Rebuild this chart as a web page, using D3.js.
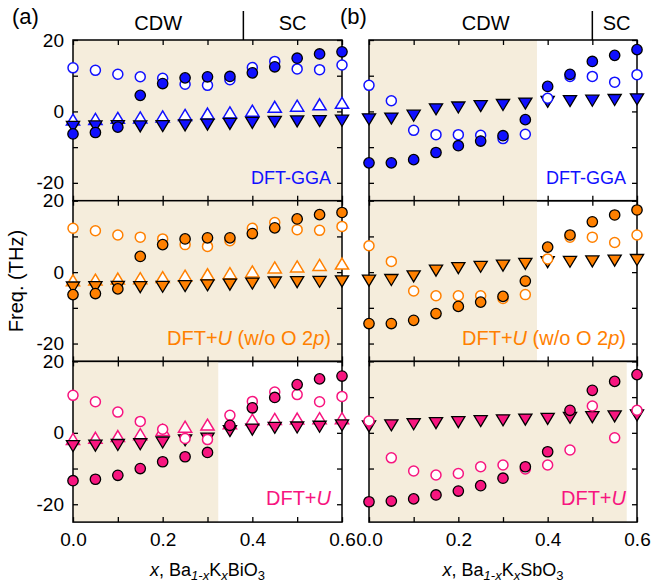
<!DOCTYPE html>
<html>
<head>
<meta charset="utf-8">
<script src="https://cdn.jsdelivr.net/npm/d3@7"></script>
<style>
  body { margin: 0; background: #fff; }
  text { font-family: "Liberation Sans", Arial, sans-serif; }
</style>
</head>
<body>
<div id="chartContainer"></div>
<script>
// doping levels x (same for every panel)
const xs = [0, 0.05, 0.1, 0.15, 0.2, 0.25, 0.3, 0.35, 0.4, 0.45, 0.5, 0.55, 0.6];

// ---- (a) Ba1-xKxBiO3 ----
// DFT-GGA
const biGgaFill = [-6.3, -5.9, -4.4, 4.5, 7.8, 9.4, 9.7, 9.8, 10.8, 12.5, 14.9, 16.1, 16.7];
const biGgaOpen = [12.2, 11.5, 10.4, 9.7, 9.3, 7.6, 7.3, 8.9, 12.3, 14.0, 11.9, 11.7, 13.0];
const biGgaUp = [-2.8, -2.6, -2.3, -2.2, -1.9, -1.5, -1.1, -0.8, -0.3, 0.8, 1.1, 1.5, 1.9];
const biGgaDown = [-3.8, -3.7, -3.6, -3.7, -3.6, -3.4, -3.2, -3.0, -2.7, -2.4, -2.3, -2.2, -2.1];
// DFT+U (w/o O 2p)
const biUoFill = [-6.3, -6.0, -4.7, 4.4, 7.7, 9.3, 9.6, 9.6, 10.8, 12.4, 14.9, 16.1, 16.7];
const biUoOpen = [12.3, 11.6, 10.4, 9.8, 9.3, 7.7, 7.2, 8.8, 12.3, 13.9, 11.9, 11.7, 12.8];
const biUoUp = [-2.8, -2.6, -2.3, -2.2, -1.9, -1.5, -1.1, -0.8, -0.3, 0.8, 1.1, 1.5, 1.9];
const biUoDown = [-3.8, -3.7, -3.6, -3.7, -3.6, -3.4, -3.2, -3.0, -2.7, -2.4, -2.3, -2.2, -2.1];
// DFT+U
const biUFill = [-13.4, -13.0, -11.9, -10.0, -8.1, -6.7, -5.5, 2.1, 7.0, 9.9, 13.5, 15.1, 15.9];
const biUOpen = [10.5, 8.7, 5.8, 3.2, 1.0, -1.6, -1.9, 4.9, 8.8, 11.4, 10.7, 8.7, 10.2];
const biUUp = [-2.2, -1.9, -1.4, -0.9, 0.3, 1.2, 1.8, 2.2, 3.2, 3.4, 3.5, 3.6, 3.6];
const biUDown = [-3.2, -3.1, -2.9, -2.7, -2.2, -1.6, -1.1, 1.0, 1.4, 1.9, 2.0, 2.2, 2.6];

// ---- (b) Ba1-xKxSbO3 ----
const sbGgaFill = [-14.4, -14.4, -13.5, -11.5, -9.6, -8.3, -6.8, -2.3, 7.0, 10.4, 14.0, 15.7, 17.3];
const sbGgaOpen = [7.3, 3.0, -5.3, -6.5, -6.5, -6.7, -7.6, -6.4, 3.7, 9.8, 9.8, 8.2, 10.3];
const sbGgaDown = [-1.7, -1.5, -0.7, 1.1, 1.6, 2.0, 2.3, 2.7, 3.2, 3.4, 3.5, 3.7, 3.9];
const sbUoFill = [-14.4, -14.4, -13.5, -11.6, -9.6, -8.4, -6.8, -2.5, 7.0, 10.4, 14.1, 16.0, 17.4];
const sbUoOpen = [7.4, 3.0, -5.3, -6.6, -6.6, -6.6, -7.4, -6.3, 3.7, 9.8, 9.8, 8.3, 10.4];
const sbUoDown = [-1.9, -1.7, -0.7, 0.9, 1.6, 2.0, 2.3, 2.8, 3.3, 3.4, 3.5, 3.7, 3.9];
const sbUFill = [-19.3, -19.1, -18.5, -17.4, -16.3, -14.8, -12.7, -9.5, -5.3, 6.3, 11.9, 14.4, 16.3];
const sbUOpen = [3.3, -7.0, -10.7, -11.8, -11.4, -9.5, -9.0, -10.1, -9.0, -4.8, 7.5, -1.4, 6.3];
const sbUDown = [2.3, 2.6, 2.9, 3.2, 3.5, 3.8, 4.0, 4.2, 4.4, 4.7, 4.9, 5.1, 5.4];

// shaded (CDW) region upper limits per row, and phase boundary on top
const shadeBi = [0.6, 0.6, 0.324];
const shadeSb = [0.376, 0.376, 0.577];
const boundaryBi = 0.38;
const boundarySb = 0.5;

const methods = ["DFT-GGA", "DFT+U (w/o O 2p)", "DFT+U"];
const yTicks = [-20, -10, 0, 10, 20];
const xTicks = [0, 0.1, 0.2, 0.3, 0.4, 0.5, 0.6];

const colors = ["#1010ff", "#ff8000", "#f7157f"];
const shade = "#f5eddc";

const width = 652, height = 584;
const rowTop = 40, rowH = 160.7;

const svg = d3.select("#chartContainer").append("svg")
  .attr("width", width).attr("height", height);

const columns = [
  { x0: 73, x1: 342, shade: shadeBi, boundary: boundaryBi, tag: "(a)", tagX: 12, mat: "BiO",
    rows: [
      { fill: biGgaFill, open: biGgaOpen, up: biGgaUp, down: biGgaDown },
      { fill: biUoFill, open: biUoOpen, up: biUoUp, down: biUoDown },
      { fill: biUFill, open: biUOpen, up: biUUp, down: biUDown }
    ] },
  { x0: 369, x1: 637, shade: shadeSb, boundary: boundarySb, tag: "(b)", tagX: 340, mat: "SbO",
    rows: [
      { fill: sbGgaFill, open: sbGgaOpen, up: null, down: sbGgaDown },
      { fill: sbUoFill, open: sbUoOpen, up: null, down: sbUoDown },
      { fill: sbUFill, open: sbUOpen, up: null, down: sbUDown }
    ] }
];

const upPath = "M0,-7.3L6.6,3.7L-6.6,3.7Z";
const downPath = "M0,7.3L6.6,-3.7L-6.6,-3.7Z";

const yFmt = (d) => (d === 20 ? "20" : d === 0 ? "0" : d === -20 ? "-20" : "");

columns.forEach((col, ci) => {
  const x = d3.scaleLinear().domain([0, 0.6]).range([col.x0, col.x1]);

  col.rows.forEach((r, ri) => {
    const top = rowTop + ri * rowH, bottom = top + rowH;
    const y = d3.scaleLinear().domain([-25, 20]).range([bottom, top]);
    const color = colors[ri];
    const g = svg.append("g");

    // CDW shading
    g.append("rect")
      .attr("x", x(0)).attr("y", top)
      .attr("width", x(col.shade[ri]) - x(0)).attr("height", rowH)
      .attr("fill", shade);

    // axes, ticks inward
    g.append("g").attr("transform", "translate(" + x(0) + ",0)")
      .call(d3.axisLeft(y).tickValues(yTicks).tickSize(-5).tickPadding(9)
        .tickFormat(ci === 0 ? yFmt : () => ""));
    g.append("g").attr("transform", "translate(" + x(0.6) + ",0)")
      .call(d3.axisRight(y).tickValues(yTicks).tickSize(-5).tickFormat(() => ""));
    g.append("g").attr("transform", "translate(0," + top + ")")
      .call(d3.axisTop(x).tickValues(xTicks).tickSize(-5).tickFormat(() => ""));
    g.append("g").attr("transform", "translate(0," + bottom + ")")
      .call(d3.axisBottom(x).tickValues(xTicks).tickSize(-5).tickPadding(10)
        .tickFormat((d) => (ri === 2 && Math.round(d * 10) % 2 === 0 ? d3.format(".1f")(d) : "")));
    g.selectAll(".domain").remove();
    g.selectAll(".tick line").attr("stroke", "#000").attr("stroke-width", 1.3);
    g.selectAll(".tick text").attr("fill", "#000").style("font-size", "19px")
      .style("font-family", '"Liberation Sans", Arial, sans-serif');

    // frame
    g.append("rect")
      .attr("x", x(0)).attr("y", top)
      .attr("width", x(0.6) - x(0)).attr("height", rowH)
      .attr("fill", "none").attr("stroke", "#000").attr("stroke-width", 1.5);

    // markers: open up-triangles, filled down-triangles, open circles, filled circles
    if (r.up) {
      g.append("g").selectAll("path").data(xs).join("path")
        .attr("d", upPath)
        .attr("transform", (d, i) => "translate(" + x(d) + "," + y(r.up[i]) + ")")
        .attr("fill", "#fff").attr("stroke", color).attr("stroke-width", 1.5);
    }
    g.append("g").selectAll("path").data(xs).join("path")
      .attr("d", downPath)
      .attr("transform", (d, i) => "translate(" + x(d) + "," + y(r.down[i]) + ")")
      .attr("fill", color).attr("stroke", "#000").attr("stroke-width", 1.3);
    g.append("g").selectAll("circle").data(xs).join("circle")
      .attr("cx", (d) => x(d)).attr("cy", (d, i) => y(r.open[i]))
      .attr("r", 5).attr("fill", "#fff").attr("stroke", color).attr("stroke-width", 1.5);
    g.append("g").selectAll("circle").data(xs).join("circle")
      .attr("cx", (d) => x(d)).attr("cy", (d, i) => y(r.fill[i]))
      .attr("r", 5.2).attr("fill", color).attr("stroke", "#000").attr("stroke-width", 1.3);

    // method label
    const lab = g.append("text")
      .attr("x", x(0.6) - 11).attr("y", y(-20) + 1)
      .attr("text-anchor", "end").attr("fill", color)
      .style("font-size", ri === 0 ? "18px" : "20px");
    if (ri === 0) lab.text(methods[0]);
    else if (ri === 1) {
      lab.append("tspan").text("DFT+");
      lab.append("tspan").style("font-style", "italic").text("U");
      lab.append("tspan").text(" (w/o O 2");
      lab.append("tspan").style("font-style", "italic").text("p");
      lab.append("tspan").text(")");
    } else {
      lab.append("tspan").text("DFT+");
      lab.append("tspan").style("font-style", "italic").text("U");
    }
  });

  // phase labels on top
  svg.append("line")
    .attr("x1", x(col.boundary)).attr("x2", x(col.boundary))
    .attr("y1", 11).attr("y2", rowTop)
    .attr("stroke", "#000").attr("stroke-width", 1.5);
  svg.append("text").attr("x", (x(0) + x(col.boundary)) / 2 + (ci === 0 ? 0 : 5)).attr("y", 30)
    .attr("text-anchor", "middle").style("font-size", "20px").text("CDW");
  svg.append("text").attr("x", (x(col.boundary) + x(0.6)) / 2 + (ci === 0 ? 0 : 2)).attr("y", 30)
    .attr("text-anchor", "middle").style("font-size", "20px").text("SC");

  // panel tag
  svg.append("text").attr("x", col.tagX).attr("y", 24)
    .style("font-size", "22px").text(col.tag);

  // x-axis title
  const xt = svg.append("text")
    .attr("x", (x(0) + x(0.6)) / 2).attr("y", 576)
    .attr("text-anchor", "middle").style("font-size", "18px");
  xt.append("tspan").style("font-style", "italic").text("x");
  xt.append("tspan").text(", Ba");
  xt.append("tspan").style("font-style", "italic").style("font-size", "13px").attr("dy", 4).text("1-x");
  xt.append("tspan").attr("dy", -4).text("K");
  xt.append("tspan").style("font-style", "italic").style("font-size", "13px").attr("dy", 4).text("x");
  xt.append("tspan").attr("dy", -4).text(col.mat);
  xt.append("tspan").style("font-size", "13px").attr("dy", 4).text("3");
});

// y-axis title
svg.append("text")
  .attr("transform", "translate(23," + (rowTop + 1.5 * rowH) + ") rotate(-90)")
  .attr("text-anchor", "middle").style("font-size", "20px").text("Freq. (THz)");
</script>
</body>
</html>
